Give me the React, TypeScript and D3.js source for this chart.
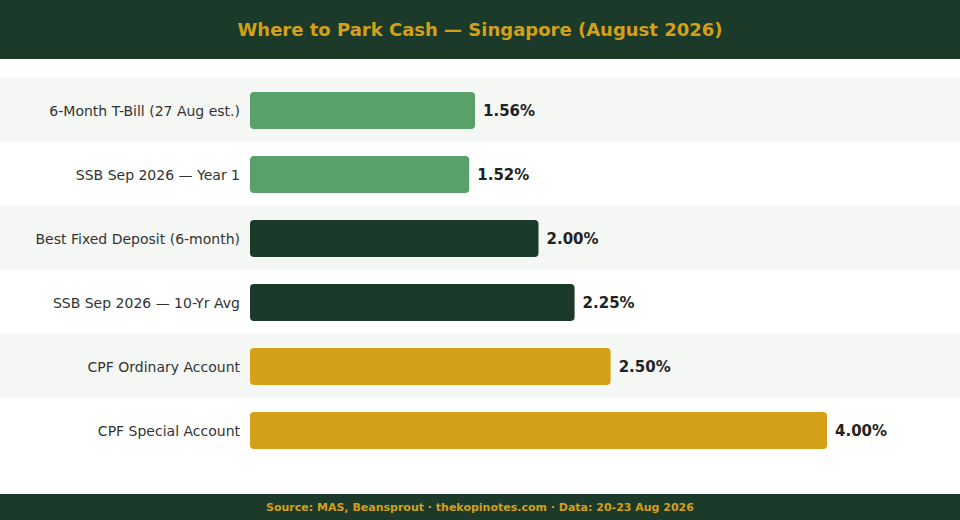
import * as d3 from 'd3';

// chart values
const categories = [
  '6-Month T-Bill (27 Aug est.)',
  'SSB Sep 2026 — Year 1',
  'Best Fixed Deposit (6-month)',
  'SSB Sep 2026 — 10-Yr Avg',
  'CPF Ordinary Account',
  'CPF Special Account',
];
const rates = [1.56, 1.52, 2.0, 2.25, 2.5, 4.0];
const groups = ['light', 'light', 'dark', 'dark', 'gold', 'gold'];

const title = 'Where to Park Cash — Singapore (August 2026)';
const source = 'Source: MAS, Beansprout · thekopinotes.com · Data: 20-23 Aug 2026';

const WIDTH = 960;
const HEIGHT = 520;
const FONT = '"DejaVu Sans", sans-serif';

const colour = d3
  .scaleOrdinal<string, string>()
  .domain(['light', 'dark', 'gold'])
  .range(['#5aa06b', '#1b3a2a', '#d4a017']);

export default function App() {
  // rows of 64px starting under the header
  const y = d3
    .scaleBand()
    .domain(categories)
    .range([78, 78 + 64 * categories.length])
    .paddingInner(0)
    .paddingOuter(0);

  const x = d3.scaleLinear().domain([0, 4]).range([250, 827]);

  const barH = 37;

  return (
    <svg
      width={WIDTH}
      height={HEIGHT}
      style={{ position: 'absolute', left: 0, top: 0, display: 'block' }}
      fontFamily={FONT}
    >
      <rect x={0} y={0} width={WIDTH} height={HEIGHT} fill="#ffffff" />

      {/* header */}
      <rect x={0} y={0} width={WIDTH} height={59} fill="#1b3a2a" />
      <text
        x={WIDTH / 2}
        y={29}
        textAnchor="middle"
        dominantBaseline="central"
        fill="#d4a017"
        fontSize={18}
        fontWeight="bold"
      >
        {title}
      </text>

      {/* row stripes */}
      {categories.map((c, i) => (
        <rect
          key={'bg' + c}
          x={0}
          y={y(c)}
          width={WIDTH}
          height={y.bandwidth()}
          fill={i % 2 === 0 ? '#f5f7f5' : '#ffffff'}
        />
      ))}

      {/* bars */}
      {categories.map((c, i) => {
        const cy = (y(c) || 0) + y.bandwidth() / 2 + 0.5;
        return (
          <g key={c}>
            <text
              x={240}
              y={cy}
              textAnchor="end"
              dominantBaseline="central"
              fill="#333333"
              fontSize={14}
            >
              {c}
            </text>
            <rect
              x={x(0)}
              y={cy - barH / 2}
              width={x(rates[i]) - x(0)}
              height={barH}
              rx={4}
              fill={colour(groups[i])}
            />
            <text
              x={x(rates[i]) + 8}
              y={cy}
              dominantBaseline="central"
              fill="#222222"
              fontSize={15}
              fontWeight="bold"
            >
              {rates[i].toFixed(2) + '%'}
            </text>
          </g>
        );
      })}

      {/* footer */}
      <rect x={0} y={494} width={WIDTH} height={26} fill="#1b3a2a" />
      <text
        x={WIDTH / 2}
        y={507}
        textAnchor="middle"
        dominantBaseline="central"
        fill="#d4a017"
        fontSize={11}
        fontWeight="bold"
      >
        {source}
      </text>
    </svg>
  );
}
